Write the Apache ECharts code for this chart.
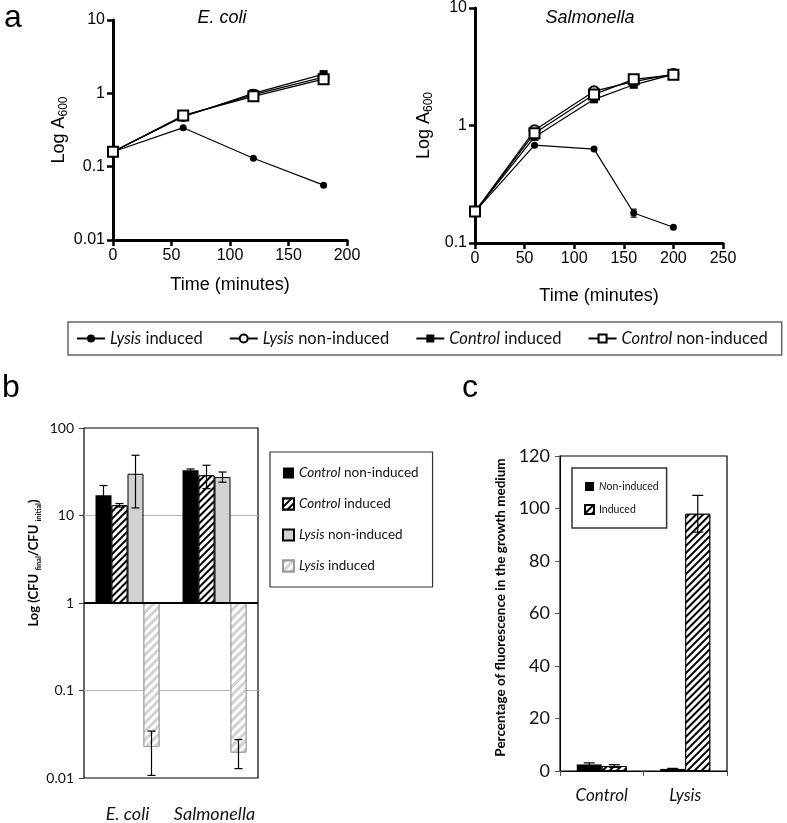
<!DOCTYPE html>
<html><head><meta charset="utf-8">
<script src="https://cdn.jsdelivr.net/npm/echarts@6/dist/echarts.min.js"></script>
<style>html,body{margin:0;padding:0;background:#fff}#c{width:787px;height:823px}</style>
</head><body><div id="c"></div>
<script>
// ---------- Panel a: growth curves ----------
const ecoliTimes = [0, 60, 120, 180];
const ecoliLysisInduced = [0.16, 0.34, 0.13, 0.056];
const ecoliLysisNonInduced = [0.16, 0.49, 0.96, 1.66];
const ecoliControlInduced = [0.16, 0.48, 1.0, 1.83];
const ecoliControlNonInduced = [0.16, 0.50, 0.91, 1.56];

const salTimes = [0, 60, 120, 160, 200];
const salLysisInduced = [0.185, 0.68, 0.63, 0.18, 0.136];
const salLysisInducedLow = [null, null, null, 0.166, null];
const salLysisInducedHigh = [null, null, null, 0.194, null];
const salLysisNonInduced = [0.185, 0.91, 1.96, 2.36, 2.74];
const salControlInduced = [0.185, 0.80, 1.67, 2.22, 2.72];
const salControlNonInduced = [0.185, 0.86, 1.84, 2.47, 2.70];

const growthSeriesNames = ['Lysis induced', 'Lysis non-induced', 'Control induced', 'Control non-induced'];

// ---------- Panel b: CFU ratio ----------
const cfuCategories = ['E. coli', 'Salmonella'];
const cfuSeriesNames = ['Control non-induced', 'Control induced', 'Lysis non-induced', 'Lysis induced'];
const cfuMeans = [
  [17.0, 32.9],
  [13.1, 28.8],
  [30.0, 27.5],
  [0.0226, 0.0195]
];
const cfuLow = [
  [13.0, 31.8],
  [12.5, 20.3],
  [12.2, 24.0],
  [0.0107, 0.0128]
];
const cfuHigh = [
  [22.0, 34.0],
  [13.7, 37.5],
  [48.8, 31.4],
  [0.0344, 0.0275]
];

// ---------- Panel c: fluorescence ----------
const fluoCategories = ['Control', 'Lysis'];
const fluoSeriesNames = ['Non-induced', 'Induced'];
const fluoMeans = [
  [2.5, 0.8],
  [1.9, 98.0]
];
const fluoErr = [
  [0.6, 0.2],
  [0.5, 7.0]
];

// ---------- helpers ----------
const zip = (xs, ys) => xs.map((x, i) => [x, ys[i]]);
const ARIAL = 'Liberation Sans';
const CAL = 'Lato';

const hatch = {symbol: 'rect', symbolSize: 1, dashArrayX: [1, 0], dashArrayY: [2, 3], rotation: -Math.PI / 4, color: '#000', backgroundColor: '#fff'};
const lightHatch = {symbol: 'rect', symbolSize: 1, dashArrayX: [1, 0], dashArrayY: [3, 3], rotation: -Math.PI / 4, color: '#d2d2d2', backgroundColor: '#fff'};

const markerStyles = [
  {symbol: 'circle', symbolSize: 7, itemStyle: {color: '#000'}},
  {symbol: 'circle', symbolSize: 10, itemStyle: {color: '#fff', borderColor: '#000', borderWidth: 2}},
  {symbol: 'rect', symbolSize: 8, itemStyle: {color: '#000'}},
  {symbol: 'rect', symbolSize: 10, itemStyle: {color: '#fff', borderColor: '#000', borderWidth: 2}}
];

function lineSeries(name, times, vals, idx, gridIdx) {
  return Object.assign({
    name: name, type: 'line', xAxisIndex: gridIdx, yAxisIndex: gridIdx,
    data: zip(times, vals), lineStyle: {color: '#000', width: 1.2},
    emphasis: {disabled: true}, animation: false, z: 3 + idx
  }, JSON.parse(JSON.stringify(markerStyles[idx])));
}

function errSeries(gridIdx, data, offset, capW) {
  return {
    type: 'custom', xAxisIndex: gridIdx, yAxisIndex: gridIdx, silent: true, animation: false, z: 10,
    data: data,
    encode: {x: 0, y: [1, 2]},
    renderItem: function (params, api) {
      const lo = api.coord([api.value(0), api.value(1)]);
      const hi = api.coord([api.value(0), api.value(2)]);
      const x = lo[0] + offset;
      const st = {stroke: '#000', lineWidth: 1.2};
      return {type: 'group', children: [
        {type: 'line', shape: {x1: x, y1: lo[1], x2: x, y2: hi[1]}, style: st},
        {type: 'line', shape: {x1: x - capW / 2, y1: lo[1], x2: x + capW / 2, y2: lo[1]}, style: st},
        {type: 'line', shape: {x1: x - capW / 2, y1: hi[1], x2: x + capW / 2, y2: hi[1]}, style: st}
      ]};
    }
  };
}

const series = [];
// panel a left
const ecoliVals = [ecoliLysisInduced, ecoliLysisNonInduced, ecoliControlInduced, ecoliControlNonInduced];
growthSeriesNames.forEach((n, i) => series.push(lineSeries(n, ecoliTimes, ecoliVals[i], i, 0)));
// panel a right
const salVals = [salLysisInduced, salLysisNonInduced, salControlInduced, salControlNonInduced];
growthSeriesNames.forEach((n, i) => series.push(lineSeries(n, salTimes, salVals[i], i, 1)));
const salErrData = [];
salTimes.forEach((t, i) => { if (salLysisInducedLow[i] != null) salErrData.push([t, salLysisInducedLow[i], salLysisInducedHigh[i]]); });
series.push(errSeries(1, salErrData, 0, 6));

// panel b
const B_W = 16;
const cfuStyles = [
  {color: '#000'},
  {color: '#fff', borderColor: '#000', borderWidth: 1, decal: hatch},
  {color: '#d2d2d2', borderColor: '#000', borderWidth: 1},
  {color: '#fff', borderColor: '#9a9a9a', borderWidth: 1, decal: lightHatch}
];
cfuSeriesNames.forEach((n, i) => {
  const s = {
    name: 'b:' + n, type: 'bar', xAxisIndex: 2, yAxisIndex: 2, data: cfuMeans[i],
    barWidth: B_W, barGap: '0%', itemStyle: cfuStyles[i], emphasis: {disabled: true}, animation: false
  };
  if (i === 0) {
    s.markLine = {silent: true, symbol: 'none', animation: false, label: {show: false},
      lineStyle: {color: '#000', width: 2, type: 'solid'}, data: [{yAxis: 1}]};
  }
  series.push(s);
  const ed = cfuCategories.map((c, k) => [k, cfuLow[i][k], cfuHigh[i][k]]);
  series.push(errSeries(2, ed, (i - (cfuSeriesNames.length - 1) / 2) * B_W, 8));
});

// panel c
const C_W = 25;
const fluoStyles = [
  {color: '#000'},
  {color: '#fff', borderColor: '#000', borderWidth: 1, decal: hatch}
];
fluoSeriesNames.forEach((n, i) => {
  series.push({
    name: 'c:' + n, type: 'bar', xAxisIndex: 3, yAxisIndex: 3, data: fluoMeans[i],
    barWidth: C_W, barGap: '0%', itemStyle: fluoStyles[i], emphasis: {disabled: true}, animation: false
  });
  const ed = fluoCategories.map((c, k) => [k, fluoMeans[i][k] - fluoErr[i][k], fluoMeans[i][k] + fluoErr[i][k]]);
  series.push(errSeries(3, ed, (i - (fluoSeriesNames.length - 1) / 2) * C_W, 11));
});

const growthAxisCommon = {
  axisLine: {show: true, onZero: false, lineStyle: {color: '#000', width: 3}},
  axisTick: {show: true, inside: false, length: 6, lineStyle: {color: '#000', width: 2.5}},
  axisLabel: {color: '#000', fontFamily: ARIAL, fontSize: 16},
  splitLine: {show: false}
};
const logName = {
  nameLocation: 'middle', nameRotate: 90,
  nameTextStyle: {fontFamily: ARIAL, fontSize: 18, color: '#000', lineHeight: 22,
    rich: {sub: {fontFamily: ARIAL, fontSize: 12, verticalAlign: 'bottom', lineHeight: 12, color: '#000'}}}
};
const timeName = {
  name: 'Time (minutes)', nameLocation: 'middle',
  nameTextStyle: {fontFamily: ARIAL, fontSize: 18, color: '#000'}
};

const option = {
  backgroundColor: '#fff',
  animation: false,
  grid: [
    {left: 113, top: 20, width: 234, height: 220, containLabel: false},
    {left: 475, top: 7, width: 248, height: 236},
    {left: 84, top: 428, width: 174, height: 350, show: true, borderColor: '#000', borderWidth: 1.2, backgroundColor: 'transparent'},
    {left: 560, top: 456, width: 167, height: 315, show: true, borderColor: '#000', borderWidth: 1.2, backgroundColor: 'transparent'}
  ],
  xAxis: [
    Object.assign({type: 'value', gridIndex: 0, min: 0, max: 200, interval: 50, nameGap: 36}, growthAxisCommon, timeName),
    Object.assign({type: 'value', gridIndex: 1, min: 0, max: 250, interval: 50, nameGap: 44}, growthAxisCommon, timeName),
    {type: 'category', gridIndex: 2, data: cfuCategories, axisLine: {show: false}, axisTick: {show: false},
      axisLabel: {interval: 0, fontFamily: CAL, fontStyle: 'italic', fontSize: 18, color: '#111', margin: 27}},
    {type: 'category', gridIndex: 3, data: fluoCategories, axisLine: {show: true, lineStyle: {color: '#000'}},
      axisTick: {show: true, length: 5, alignWithLabel: false, lineStyle: {color: '#555'}},
      axisLabel: {interval: 0, fontFamily: CAL, fontStyle: 'italic', fontSize: 17, color: '#111', margin: 16}}
  ],
  yAxis: [
    Object.assign({type: 'log', logBase: 10, gridIndex: 0, min: 0.01, max: 10, name: 'Log A{sub|600}', nameGap: 36}, growthAxisCommon, logName),
    Object.assign({type: 'log', logBase: 10, gridIndex: 1, min: 0.1, max: 10, name: 'Log A{sub|600}', nameGap: 40}, growthAxisCommon, logName),
    {type: 'log', logBase: 10, gridIndex: 2, min: 0.01, max: 100,
      name: 'Log (CFU {sub|final}/CFU {sub|initial})', nameLocation: 'middle', nameGap: 26,
      nameTextStyle: {fontFamily: CAL, fontWeight: 'bold', fontSize: 13, color: '#000', lineHeight: 17, padding: [0, 0, 0, 80],
        rich: {sub: {fontFamily: CAL, fontWeight: 'bold', fontSize: 7.5, verticalAlign: 'bottom', lineHeight: 10, color: '#000'}}},
      axisLine: {show: false}, axisTick: {show: true, length: 5, lineStyle: {color: '#444'}},
      axisLabel: {fontFamily: CAL, fontSize: 14, color: '#111', margin: 10},
      splitLine: {show: true, showMinLine: false, showMaxLine: false, lineStyle: {color: '#b8b8b8', width: 1}}},
    {type: 'value', gridIndex: 3, min: 0, max: 120, interval: 20,
      name: 'Percentage of fluorescence in the growth medium', nameLocation: 'middle', nameGap: 52,
      nameTextStyle: {fontFamily: CAL, fontWeight: 'bold', fontSize: 13.5, color: '#000', padding: [0, 0, 0, 12]},
      axisLine: {show: true, lineStyle: {color: '#000'}}, axisTick: {show: true, length: 5, lineStyle: {color: '#555'}},
      axisLabel: {fontFamily: CAL, fontSize: 18, color: '#111', margin: 10},
      splitLine: {show: false}}
  ],
  legend: [
    {
      data: growthSeriesNames, left: 68, top: 322, orient: 'horizontal',
      selectedMode: false, borderColor: '#666', borderWidth: 1.5, padding: [8, 14, 8, 8],
      itemGap: 26, itemWidth: 28, itemHeight: 10,
      textStyle: {fontFamily: CAL, fontSize: 16.5, color: '#111', rich: {i: {fontFamily: CAL, fontSize: 16.5, fontStyle: 'italic', color: '#111'}}},
      formatter: n => n.replace(/^(Lysis|Control)/, '{i|$1}')
    },
    {
      data: cfuSeriesNames.map(n => 'b:' + n), left: 270, top: 452, orient: 'vertical', icon: 'rect',
      selectedMode: false, borderColor: '#333', borderWidth: 1.2, padding: [14, 14, 14, 12],
      itemGap: 17, itemWidth: 11, itemHeight: 11,
      textStyle: {fontFamily: CAL, fontSize: 13.5, color: '#111', rich: {i: {fontFamily: CAL, fontSize: 13.5, fontStyle: 'italic', color: '#111'}}},
      formatter: n => n.slice(2).replace(/^(Lysis|Control)/, '{i|$1}')
    },
    {
      data: fluoSeriesNames.map(n => 'c:' + n), left: 572, top: 468, orient: 'vertical', icon: 'rect',
      selectedMode: false, borderColor: '#333', borderWidth: 1.5, padding: [13, 8, 13, 12],
      itemGap: 12, itemWidth: 9, itemHeight: 9,
      textStyle: {fontFamily: CAL, fontSize: 10.5, color: '#111', rich: {i: {fontFamily: CAL, fontSize: 10.5, fontStyle: 'italic', color: '#111'}}},
      formatter: n => n.slice(2) === 'Non-induced' ? '{i|N}on-induced' : n.slice(2)
    }
  ],
  graphic: [
    {type: 'text', x: 4, y: 2, style: {text: 'a', font: '32px "Liberation Sans"', fill: '#000'}},
    {type: 'text', x: 2, y: 372, style: {text: 'b', font: '32px "Liberation Sans"', fill: '#000'}},
    {type: 'text', x: 462, y: 372, style: {text: 'c', font: '32px "Liberation Sans"', fill: '#000'}},
    {type: 'text', x: 222, y: 18, style: {text: 'E. coli', font: 'italic 18px "Liberation Sans"', fill: '#000', textAlign: 'center', textVerticalAlign: 'middle'}},
    {type: 'text', x: 590, y: 18, style: {text: 'Salmonella', font: 'italic 18px "Liberation Sans"', fill: '#000', textAlign: 'center', textVerticalAlign: 'middle'}}
  ],
  series: series
};

const chart = echarts.init(document.getElementById('c'), null, {renderer: 'canvas'});
chart.setOption(option);
</script></body></html>
